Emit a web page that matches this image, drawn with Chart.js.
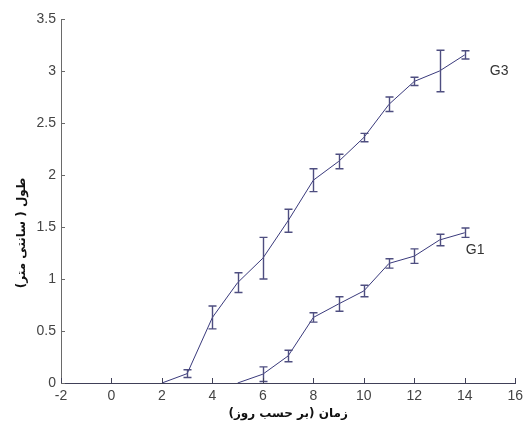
<!DOCTYPE html>
<html>
<head>
<meta charset="utf-8">
<script src="https://cdn.jsdelivr.net/npm/chart.js@4.4.0/dist/chart.umd.min.js"></script>
<style>
html,body{margin:0;padding:0;background:#fff;}
#wrap{width:528px;height:428px;position:relative;}
</style>
</head>
<body>
<div id="wrap"><canvas id="c" width="528" height="428"></canvas></div>
<script>
// ---- data ----
const g3Days = [2, 3, 4, 5, 6, 7, 8, 9, 10, 11, 12, 13, 14];
const g3Mean = [0, 0.09, 0.63, 0.965, 1.2, 1.56, 1.95, 2.13, 2.36, 2.68, 2.90, 3.0, 3.155];
const g3Err  = [0, 0.037, 0.11, 0.095, 0.2, 0.11, 0.11, 0.07, 0.04, 0.07, 0.04, 0.2, 0.04];

const g1Days = [5, 6, 7, 8, 9, 10, 11, 12, 13, 14];
const g1Mean = [0, 0.085, 0.26, 0.63, 0.76, 0.885, 1.15, 1.22, 1.375, 1.445];
const g1Err  = [0, 0.07, 0.055, 0.045, 0.07, 0.055, 0.045, 0.07, 0.055, 0.045];

const xTicks = [-2, 0, 2, 4, 6, 8, 10, 12, 14, 16];
const yTicks = [0, 0.5, 1, 1.5, 2, 2.5, 3, 3.5];
const seriesNames = ['G3', 'G1'];
const xTitle = 'زمان (بر حسب روز)';
const yTitle = 'طول ( سانتی متر)';

const LINE = '#3a3a7c';
const ERR = '#4e4e80';
const TICKFONT = {family: '"Liberation Sans", Arial, sans-serif', size: 14};

function pts(xs, ys){ return xs.map((x,i)=>({x:x, y:ys[i]})); }

const errPlugin = {
  id: 'errbars',
  afterDatasetsDraw(chart){
    const ctx = chart.ctx, xs = chart.scales.x, ys = chart.scales.y;
    const sets = [[g3Days,g3Mean,g3Err],[g1Days,g1Mean,g1Err]];
    ctx.save();
    ctx.strokeStyle = ERR;
    ctx.lineWidth = 1.4;
    sets.forEach(([d,m,e])=>{
      d.forEach((x,i)=>{
        if(!e[i]) return;
        const px = Math.round(xs.getPixelForValue(x))+0.5;
        const t = ys.getPixelForValue(m[i]+e[i]);
        const b = ys.getPixelForValue(m[i]-e[i]);
        const w = 4;
        ctx.beginPath();
        ctx.moveTo(px,t); ctx.lineTo(px,b);
        ctx.moveTo(px-w,t); ctx.lineTo(px+w,t);
        ctx.moveTo(px-w,b); ctx.lineTo(px+w,b);
        ctx.stroke();
      });
    });
    ctx.restore();
  }
};

const decoPlugin = {
  id: 'deco',
  afterDraw(chart){
    const ctx = chart.ctx, xs = chart.scales.x, ys = chart.scales.y;
    const a = chart.chartArea;
    ctx.save();
    // inward ticks
    ctx.lineWidth = 1;
    ctx.strokeStyle = '#404058';
    xTicks.forEach(v=>{
      const px = Math.round(xs.getPixelForValue(v))+0.5;
      ctx.beginPath(); ctx.moveTo(px, a.bottom); ctx.lineTo(px, a.bottom-5); ctx.stroke();
    });
    ctx.strokeStyle = '#6a6a6a';
    yTicks.forEach(v=>{
      const py = Math.round(ys.getPixelForValue(v))+0.5;
      ctx.beginPath(); ctx.moveTo(a.left, py); ctx.lineTo(a.left+4, py); ctx.stroke();
    });
    // series labels
    ctx.fillStyle = '#333';
    ctx.font = '14px "Liberation Sans", Arial, sans-serif';
    ctx.textAlign = 'left';
    ctx.textBaseline = 'middle';
    const l3x = xs.getPixelForValue(g3Days[g3Days.length-1]);
    const l3y = ys.getPixelForValue(g3Mean[g3Mean.length-1]);
    ctx.fillText(seriesNames[0], l3x+25, l3y+16);
    const l1x = xs.getPixelForValue(g1Days[g1Days.length-1]);
    const l1y = ys.getPixelForValue(g1Mean[g1Mean.length-1]);
    ctx.fillText(seriesNames[1], l1x+1, l1y+17);
    // axis titles
    ctx.fillStyle = '#111';
    ctx.font = 'bold 12px "DejaVu Sans", sans-serif';
    ctx.textAlign = 'center';
    ctx.direction = 'rtl';
    ctx.fillText(xTitle, (a.left+a.right)/2, 414);
    ctx.translate(22, 233);
    ctx.rotate(-Math.PI/2);
    ctx.fillText(yTitle, 0, 0);
    ctx.restore();
  }
};

new Chart(document.getElementById('c'), {
  type: 'line',
  data: {
    datasets: [
      {label: seriesNames[0], data: pts(g3Days, g3Mean), borderColor: LINE, borderWidth: 1, pointRadius: 0, tension: 0, fill: false},
      {label: seriesNames[1], data: pts(g1Days, g1Mean), borderColor: LINE, borderWidth: 1, pointRadius: 0, tension: 0, fill: false}
    ]
  },
  options: {
    responsive: false,
    animation: false,
    devicePixelRatio: 1,
    layout: {padding: {left: 0, top: 19, right: 10, bottom: 0}},
    plugins: {legend: {display: false}, tooltip: {enabled: false}},
    scales: {
      x: {
        type: 'linear', min: -2, max: 16,
        afterBuildTicks: s => { s.ticks = xTicks.map(v=>({value:v})); },
        afterFit: s => { s.height = 45; },
        grid: {display: true, drawOnChartArea: false, drawTicks: false, tickLength: 0},
        border: {display: true, color: '#404058', width: 1},
        ticks: {padding: 5, color: '#444', font: TICKFONT, maxRotation: 0, callback: v => String(v)}
      },
      y: {
        type: 'linear', min: 0, max: 3.5,
        afterBuildTicks: s => { s.ticks = yTicks.map(v=>({value:v})); },
        afterFit: s => { s.width = 61; },
        grid: {display: true, drawOnChartArea: false, drawTicks: false, tickLength: 0},
        border: {display: true, color: '#6a6a6a', width: 1},
        ticks: {padding: 5, color: '#444', font: TICKFONT, callback: v => String(v)}
      }
    }
  },
  plugins: [errPlugin, decoPlugin]
});
</script>
</body>
</html>
